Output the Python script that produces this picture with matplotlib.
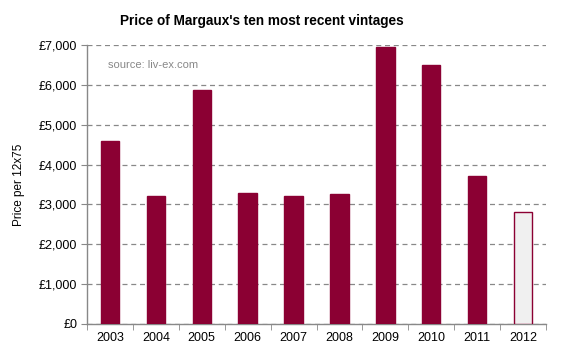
import numpy as np
import matplotlib.pyplot as plt
from matplotlib.ticker import FuncFormatter

plt.rcParams['font.family'] = ['Liberation Sans', 'DejaVu Sans']

# data
years = ["2003", "2004", "2005", "2006", "2007", "2008", "2009", "2010", "2011", "2012"]
prices = [4600, 3200, 5870, 3290, 3200, 3250, 6950, 6500, 3720, 2800]

bar_col = "#8B0033"
x = np.arange(len(years))

fig = plt.figure(figsize=(5.62, 3.57), dpi=100)
ax = fig.add_axes([87/562, 1 - 324/357, 459/562, 279/357])

colors = [bar_col] * (len(years) - 1) + ["#F0F0F0"]
ax.bar(x, prices, width=0.4, color=colors, edgecolor=[bar_col] * len(years),
       linewidth=1.0, zorder=3)

ax.set_xlim(-0.5, len(years) - 0.5)
ax.set_ylim(0, 7000)
ax.set_yticks(np.arange(0, 7001, 1000))
ax.yaxis.set_major_formatter(FuncFormatter(lambda v, p: f"£{v:,.0f}"))
ax.set_xticks(x)
ax.set_xticklabels(years)
ax.set_xticks(np.arange(-0.5, len(years), 1), minor=True)
ax.tick_params(axis="x", which="major", length=0, pad=6, labelsize=9)
ax.tick_params(axis="x", which="minor", length=4, color="#888888")
ax.tick_params(axis="y", length=4, color="#888888", labelsize=9, pad=3)

ax.grid(axis="y", linestyle=(0, (4, 3)), color="#888888", linewidth=0.9, zorder=0)
for s in ["top", "right"]:
    ax.spines[s].set_visible(False)
for s in ["left", "bottom"]:
    ax.spines[s].set_color("#888888")
    ax.spines[s].set_linewidth(1.0)

ax.set_ylabel("Price per 12x75", fontsize=8.5, labelpad=10)
fig.suptitle("Price of Margaux's ten most recent vintages", fontsize=9.8,
             fontweight="bold", x=0.465, y=0.96)
ax.text(0.045, 0.93, "source: liv-ex.com", transform=ax.transAxes,
        fontsize=8, color="#888888", va="center")

fig.savefig("out.png", dpi=100)
